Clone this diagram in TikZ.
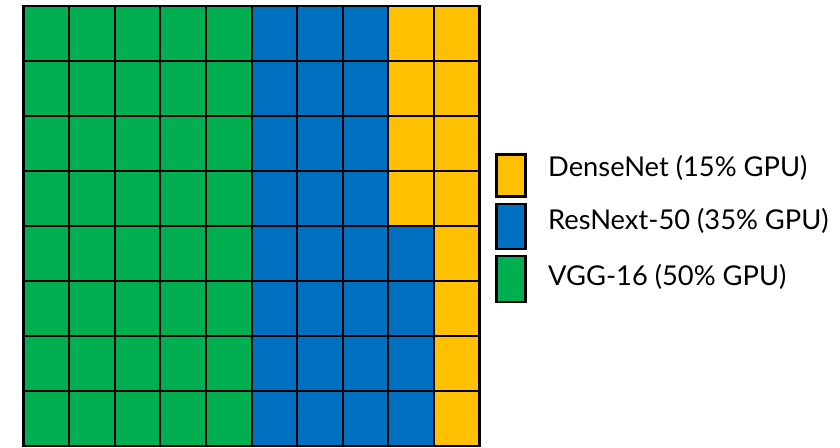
\documentclass[tikz,border=0pt]{standalone}
\usepackage{fontspec}
\setmainfont{Lato}
\definecolor{vggc}{HTML}{00B050}
\definecolor{resc}{HTML}{0070C0}
\definecolor{densec}{HTML}{FFC000}
\tikzset{
  gridline/.style={draw=black, line width=2pt},
  legbox/.style={draw=black, line width=2.5pt, minimum width=29pt, minimum height=42pt, inner sep=0pt},
  legtext/.style={anchor=base west, inner sep=0pt, font=\fontsize{27.3}{32}\selectfont}
}
\begin{document}
\begin{tikzpicture}[x=1pt, y=-1pt]
  \useasboundingbox (0,0) rectangle (840,447);
  % waffle grid: 10 columns x 8 rows
  \def\xo{23.5}\def\yo{6}\def\cw{45.6}\def\ch{55}
  % VGG-16: columns 0-4
  \fill[vggc] (\xo,\yo) rectangle ({\xo+5*\cw},{\yo+8*\ch});
  % ResNext-50: columns 5-7, plus lower half of column 8
  \fill[resc] ({\xo+5*\cw},\yo) rectangle ({\xo+8*\cw},{\yo+8*\ch});
  \fill[resc] ({\xo+8*\cw},{\yo+4*\ch}) rectangle ({\xo+9*\cw},{\yo+8*\ch});
  % DenseNet: upper half of column 8, column 9
  \fill[densec] ({\xo+8*\cw},\yo) rectangle ({\xo+9*\cw},{\yo+4*\ch});
  \fill[densec] ({\xo+9*\cw},\yo) rectangle ({\xo+10*\cw},{\yo+8*\ch});
  % cell borders
  \foreach \i in {1,...,9}
    \draw[gridline] ({\xo+\i*\cw},\yo) -- ({\xo+\i*\cw},{\yo+8*\ch});
  \foreach \j in {1,...,7}
    \draw[gridline] (\xo,{\yo+\j*\ch}) -- ({\xo+10*\cw},{\yo+\j*\ch});
  \draw[gridline, line width=2.5pt] (\xo,\yo) rectangle ({\xo+10*\cw},{\yo+8*\ch});
  % legend
  \node[legbox, fill=densec] (kdense) at (511,175.5) {};
  \node[legbox, fill=resc, minimum height=45pt] (kres) at (511,226.7) {};
  \node[legbox, fill=vggc, minimum height=46pt] (kvgg) at (511,279) {};
  \node[legtext] (tdense) at (548,176.7) {DenseNet (15\% GPU)};
  \node[legtext] (tres) at (548,229) {ResNext-50 (35\% GPU)};
  \node[legtext] (tvgg) at (548,285.7) {VGG-16 (50\% GPU)};
\end{tikzpicture}
\end{document}
